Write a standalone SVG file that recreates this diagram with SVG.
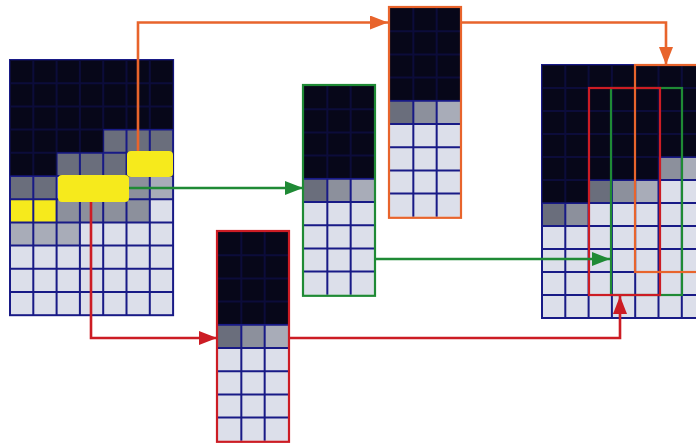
<svg xmlns="http://www.w3.org/2000/svg" xmlns:xlink="http://www.w3.org/1999/xlink" width="696" height="446" viewBox="0 0 696 446">
<style>
.db{fill:#07071a}
.dk{fill:#07071a;fill-opacity:0.7}
.g1{fill:#6a6e7c}
.g2{fill:#8c909c}
.g3{fill:#a8acb8}
.lt{fill:#dcdfea}
.ye{fill:#f6ea1c}
.gl{fill:none;stroke:#181a86;stroke-width:2}
.cn{fill:none;stroke-width:2.6}
.or{stroke:#e8642c}
.gr{stroke:#1f8a35}
.rd{stroke:#cc1c24}
.bd{fill:none;stroke-width:2.2}
</style>
<defs>
<marker id="aO" markerUnits="userSpaceOnUse" markerWidth="18" markerHeight="14" refX="18" refY="7" orient="auto"><path d="M0,0L18,7L0,14z" fill="#e8642c"/></marker>
<marker id="aG" markerUnits="userSpaceOnUse" markerWidth="18" markerHeight="14" refX="18" refY="7" orient="auto"><path d="M0,0L18,7L0,14z" fill="#1f8a35"/></marker>
<marker id="aR" markerUnits="userSpaceOnUse" markerWidth="18" markerHeight="14" refX="18" refY="7" orient="auto"><path d="M0,0L18,7L0,14z" fill="#cc1c24"/></marker>
<g id="col">
<rect class="lt" width="70" height="208.8"/>
<rect class="db" width="70" height="92.8"/>
<rect class="g1" y="92.8" width="23.33" height="23.2"/>
<rect class="g2" x="23.33" y="92.8" width="23.33" height="23.2"/>
<rect class="g3" x="46.67" y="92.8" width="23.33" height="23.2"/>
<path class="gl" d="M23.33,0V208.8M46.67,0V208.8M0,23.2H70M0,46.4H70M0,69.6H70M0,92.8H70M0,116H70M0,139.2H70M0,162.4H70M0,185.6H70"/>
<rect class="dk" width="70" height="92"/>
</g>
</defs>
<rect width="696" height="446" fill="#ffffff"/>

<g id="input-grid" transform="translate(10,60)">
<rect class="lt" width="163.1" height="255.2"/>
<path class="db" d="M0,0H163.1V69.6H93.2V92.8H46.6V116H0z"/>
<rect class="g1" x="93.2" y="69.6" width="69.9" height="23.2"/>
<rect class="g1" x="46.6" y="92.8" width="69.9" height="23.2"/>
<rect class="g1" y="116" width="46.6" height="23.2"/>
<rect class="g2" x="116.5" y="116" width="23.3" height="23.2"/>
<rect class="g3" x="139.8" y="116" width="23.3" height="23.2"/>
<rect class="ye" y="139.2" width="46.6" height="23.2"/>
<rect class="g2" x="46.6" y="139.2" width="93.2" height="23.2"/>
<rect class="g3" y="162.4" width="69.9" height="23.2"/>
<path class="gl" d="M23.3,0V255.2M46.6,0V255.2M69.9,0V255.2M93.2,0V255.2M116.5,0V255.2M139.8,0V255.2M0,23.2H163.1M0,46.4H163.1M0,69.6H163.1M0,92.8H163.1M0,116H163.1M0,139.2H163.1M0,162.4H163.1M0,185.6H163.1M0,208.8H163.1M0,232H163.1"/>
<rect class="gl" x="0" y="0" width="163.1" height="255.2"/>
<path class="dk" d="M0,0H163.1V69H93.2V92.2H46.6V115.4H0z"/>
</g>

<g id="orange-column">
<use xlink:href="#col" transform="translate(390,8)"/>
<rect class="bd or" x="389" y="7" width="72" height="210.8"/>
</g>
<g id="green-column">
<use xlink:href="#col" transform="translate(304,86)"/>
<rect class="bd gr" x="303" y="85" width="72" height="210.8"/>
</g>
<g id="red-column">
<use xlink:href="#col" transform="translate(218,232)"/>
<rect class="bd rd" x="217" y="231" width="72" height="210.8"/>
</g>

<g id="output-grid">
<g transform="translate(542,65)">
<rect class="lt" width="163.1" height="253"/>
<path class="db" d="M0,0H163.1V92H116.5V115H46.6V138H0z"/>
<rect class="g2" x="116.5" y="92" width="23.3" height="23"/>
<rect class="g3" x="139.8" y="92" width="23.3" height="23"/>
<rect class="g1" x="46.6" y="115" width="23.3" height="23"/>
<rect class="g2" x="69.9" y="115" width="23.3" height="23"/>
<rect class="g3" x="93.2" y="115" width="23.3" height="23"/>
<rect class="g1" y="138" width="23.3" height="23"/>
<rect class="g2" x="23.3" y="138" width="23.3" height="23"/>
<path class="gl" d="M23.3,0V253M46.6,0V253M69.9,0V253M93.2,0V253M116.5,0V253M139.8,0V253M0,23H163.1M0,46H163.1M0,69H163.1M0,92H163.1M0,115H163.1M0,138H163.1M0,161H163.1M0,184H163.1M0,207H163.1M0,230H163.1"/>
<rect class="gl" width="163.1" height="253"/>
<path class="dk" d="M0,0H163.1V91.4H116.5V114.4H46.6V137.4H0z"/>
</g>
<rect class="bd gr" x="611" y="88" width="71" height="207"/>
<rect class="bd rd" x="589" y="88" width="71" height="207"/>
<rect class="bd or" x="635" y="65" width="72" height="207"/>
</g>

<g id="connectors">
<path class="cn or" d="M138,152V22.5H388" marker-end="url(#aO)"/>
<path class="cn or" d="M462,22.5H666V65" marker-end="url(#aO)"/>
<path class="cn gr" d="M128,188H303" marker-end="url(#aG)"/>
<path class="cn gr" d="M375,259H610" marker-end="url(#aG)"/>
<path class="cn rd" d="M91,200V338H217" marker-end="url(#aR)"/>
<path class="cn rd" d="M289,338H620V296" marker-end="url(#aR)"/>
</g>

<g id="highlight">
<rect class="ye" x="127" y="151" width="46" height="26" rx="4"/>
<rect class="ye" x="58" y="175" width="71" height="27" rx="4"/>
</g>
</svg>
